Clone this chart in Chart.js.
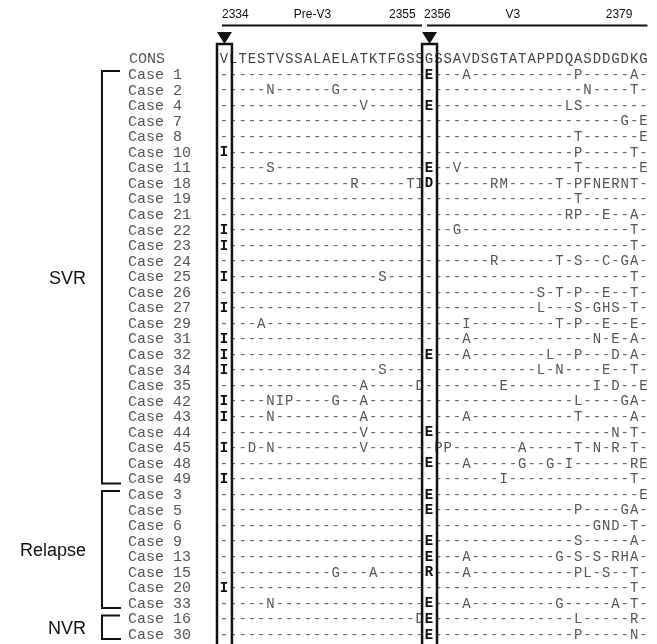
<!DOCTYPE html>
<html>
<head>
<meta charset="utf-8">
<title>NS5A pre-V3 / V3 alignment</title>
<script src="https://cdn.jsdelivr.net/npm/chart.js@4.4.0/dist/chart.umd.min.js"></script>
<style>
  html, body { margin: 0; padding: 0; background: #fff; }
  #wrap { width: 657px; height: 644px; }
</style>
</head>
<body>
<div id="wrap"><canvas id="aln" width="657" height="644"></canvas></div>
<script>
/* ================================
   DATA
================================ */
const FIRST_POS = 2334; // residue number of the first column
const consensus = 'VLTESTVSSALAELATKTFGSSGSSAVDSGTATAPPDQASDDGDKG';

const caseLabels = [
    'Case 1', 'Case 2', 'Case 4', 'Case 7', 'Case 8', 'Case 10', 'Case 11', 'Case 18', 'Case 19',
    'Case 21', 'Case 22', 'Case 23', 'Case 24', 'Case 25', 'Case 26', 'Case 27', 'Case 29', 'Case 31',
    'Case 32', 'Case 34', 'Case 35', 'Case 42', 'Case 43', 'Case 44', 'Case 45', 'Case 48', 'Case 49',
    'Case 3', 'Case 5', 'Case 6', 'Case 9', 'Case 13', 'Case 15', 'Case 20', 'Case 33',
    'Case 16', 'Case 30'
];

// substitutions vs consensus, residue + position ('-' everywhere else)
const substitutions = [
    'E2356 A2360 P2372 A2378',
    'N2339 G2346 N2373 T2378',
    'V2349 E2356 L2371 S2372',
    'G2377 E2379',
    'T2372 E2379',
    'I2334 P2372 T2378',
    'S2339 E2356 V2359 T2372 E2379',
    'R2348 T2354 I2355 D2356 R2363 M2364 T2370 P2372 F2373 N2374 E2375 R2376 N2377 T2378',
    'T2372',
    'R2371 P2372 E2375 A2378',
    'I2334 G2359 T2378',
    'I2334 T2378',
    'R2363 T2370 S2372 C2375 G2377 A2378',
    'I2334 S2351 T2378',
    'S2368 T2370 P2372 E2375 T2378',
    'I2334 L2368 S2372 G2374 H2375 S2376 T2378',
    'A2338 I2360 T2370 P2372 E2375 E2378',
    'I2334 A2360 N2374 E2376 A2378',
    'I2334 E2356 A2360 L2369 P2372 D2376 A2378',
    'I2334 S2351 L2368 N2370 E2375 T2378',
    'A2349 D2355 E2364 I2374 D2376 E2379',
    'I2334 N2339 I2340 P2341 G2346 A2349 L2372 G2377 A2378',
    'I2334 N2339 A2349 A2360 T2372 A2378',
    'V2349 E2356 N2376 T2378',
    'I2334 D2337 N2339 V2349 P2357 P2358 A2366 T2372 N2374 R2376 T2378',
    'E2356 A2360 G2366 G2369 I2371 R2378 E2379',
    'I2334 I2364 T2378',
    'E2356 E2379',
    'E2356 P2372 G2377 A2378',
    'G2374 N2375 D2376 T2378',
    'E2356 S2372 A2378',
    'E2356 A2360 G2370 S2372 S2374 R2376 H2377 A2378',
    'G2346 A2350 R2356 A2360 P2372 L2373 S2375 T2378',
    'I2334 T2378',
    'N2339 E2356 A2360 G2370 A2376 T2378',
    'D2355 E2356 L2372 R2378',
    'E2356 P2372 N2378'
];

const groupNames = ['SVR', 'Relapse', 'NVR'];
const groupSizes = [27, 8, 2];

const boxedPositions = [2334, 2356];
const positionTicks = [2334, 2355, 2356, 2379];
const regionNames = ['Pre-V3', 'V3'];

/* ================================
   POINTS FOR THE SCATTER
================================ */
const rowLabels = ['CONS', ...caseLabels];
const lastPos = FIRST_POS + consensus.length - 1;

function buildPoints() {
    const pts = [];
    consensus.split('').forEach((aa, i) => pts.push({ x: FIRST_POS + i, y: 0, aa: aa }));
    substitutions.forEach((s, r) => {
        const subs = {};
        s.split(' ').filter(t => t).forEach(t => { subs[+t.slice(1)] = t[0]; });
        for (let i = 0; i < consensus.length; i++) {
            const pos = FIRST_POS + i;
            pts.push({ x: pos, y: r + 1, aa: subs[pos] || '-' });
        }
    });
    return pts;
}

/* ================================
   PLUGINS
================================ */
const MONO = '"Liberation Mono", "DejaVu Sans Mono", monospace';
const SANS = '"Liberation Sans", Arial, sans-serif';

// residues / dashes at each point
const residueText = {
    id: 'residueText',
    afterDatasetsDraw(chart) {
        const ctx = chart.ctx;
        const ds = chart.data.datasets[0];
        const meta = chart.getDatasetMeta(0);
        ctx.save();
        ctx.textAlign = 'center';
        ctx.textBaseline = 'middle';
        meta.data.forEach((el, i) => {
            const p = ds.data[i];
            const boxed = boxedPositions.includes(p.x) && p.y > 0;
            if (p.aa === '-') {
                ctx.font = '14px ' + MONO;
                ctx.fillStyle = '#6a6a6a';
            } else if (boxed) {
                ctx.font = 'bold 14px ' + MONO;
                ctx.fillStyle = '#111';
            } else {
                ctx.font = '14px ' + MONO;
                ctx.fillStyle = p.y === 0 ? '#444' : '#555';
            }
            ctx.fillText(p.aa, el.x, el.y + 1);
        });
        ctx.restore();
    }
};

// row names, group brackets, header, boxes
const decorations = {
    id: 'decorations',
    afterDraw(chart) {
        const ctx = chart.ctx;
        const xs = chart.scales.x, ys = chart.scales.y;
        const step = xs.getPixelForValue(FIRST_POS + 1) - xs.getPixelForValue(FIRST_POS);
        ctx.save();

        // row labels
        ctx.font = '15px ' + MONO;
        ctx.fillStyle = '#555';
        ctx.textAlign = 'left';
        ctx.textBaseline = 'middle';
        rowLabels.forEach((lab, r) => {
            ctx.fillText(lab, r === 0 ? 129 : 128, ys.getPixelForValue(r) + 1);
        });

        // group brackets + names
        ctx.strokeStyle = '#111';
        ctx.lineWidth = 2;
        let start = 1;
        groupNames.forEach((name, g) => {
            const end = start + groupSizes[g] - 1;
            const top = ys.getPixelForValue(start) - 3;
            const bot = ys.getPixelForValue(end) + 5;
            ctx.beginPath();
            ctx.moveTo(120, top);
            ctx.lineTo(102, top);
            ctx.lineTo(102, bot);
            ctx.lineTo(121, bot);
            ctx.stroke();
            ctx.font = '18px ' + SANS;
            ctx.fillStyle = '#111';
            ctx.textAlign = 'right';
            ctx.fillText(name, 86, (top + bot) / 2 + 2);
            start = end + 1;
        });

        // header: position numbers, region names, region lines
        ctx.font = '12px ' + SANS;
        ctx.fillStyle = '#111';
        ctx.textBaseline = 'middle';
        const hy = 15;
        positionTicks.forEach((pos, i) => {
            const px = xs.getPixelForValue(pos);
            if (i % 2 === 0) {
                ctx.textAlign = 'left';
                ctx.fillText(String(pos), px - (i === 0 ? 2 : 5), hy);
            } else {
                ctx.textAlign = 'right';
                ctx.fillText(String(pos), px - (pos === lastPos ? 11 : 4), hy);
            }
        });
        ctx.textAlign = 'center';
        ctx.fillText(regionNames[0], xs.getPixelForValue(2343.5), hy);
        ctx.fillText(regionNames[1], xs.getPixelForValue(2365), hy);

        ctx.lineWidth = 2;
        ctx.beginPath();
        ctx.moveTo(xs.getPixelForValue(positionTicks[0]) - 2, 25.5);
        ctx.lineTo(xs.getPixelForValue(positionTicks[2]) - 7, 25.5);
        ctx.moveTo(xs.getPixelForValue(positionTicks[2]) - 2, 25.5);
        ctx.lineTo(xs.getPixelForValue(positionTicks[3]) + 4, 25.5);
        ctx.stroke();

        // boxed columns with arrow heads
        boxedPositions.forEach(pos => {
            const cx = xs.getPixelForValue(pos) + 0.5;
            const half = step * 0.8;
            const top = 44;
            ctx.lineWidth = 2.5;
            ctx.strokeStyle = '#111';
            ctx.strokeRect(cx - half, top, half * 2, chart.height + 10 - top);
            ctx.fillStyle = '#111';
            ctx.beginPath();
            ctx.moveTo(cx - half, top - 12);
            ctx.lineTo(cx + half, top - 12);
            ctx.lineTo(cx, top);
            ctx.closePath();
            ctx.fill();
        });

        ctx.restore();
    }
};

/* ================================
   CHART
================================ */
const ctx = document.getElementById('aln').getContext('2d');
const alnChart = new Chart(ctx, {
    type: 'scatter',
    data: {
        datasets: [{
            label: 'alignment',
            data: buildPoints(),
            pointRadius: 0,
            pointHoverRadius: 0
        }]
    },
    options: {
        responsive: false,
        animation: false,
        events: [],
        layout: { padding: { left: 219.3, right: 8.9, top: 50.7, bottom: 2.2 } },
        plugins: {
            legend: { display: false },
            tooltip: { enabled: false },
            title: { display: false }
        },
        scales: {
            x: { type: 'linear', min: FIRST_POS - 0.5, max: lastPos + 0.5, display: false },
            y: { type: 'linear', min: -0.5, max: rowLabels.length - 0.5, reverse: true, display: false }
        }
    },
    plugins: [residueText, decorations]
});
</script>
</body>
</html>
